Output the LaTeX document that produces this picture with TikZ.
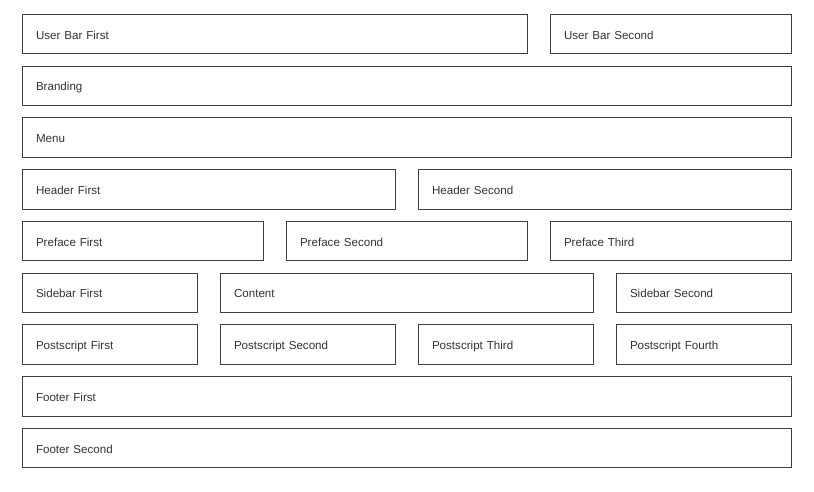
\documentclass[tikz,border=0pt]{standalone}
\usepackage{fontspec}
\setmainfont{Liberation Sans}
\definecolor{boxgray}{HTML}{404040}
\definecolor{txtgray}{HTML}{333333}
\tikzset{
  box/.style={draw=boxgray, line width=1pt, rectangle, anchor=north west,
    minimum height=39.5pt, inner xsep=13.5pt, inner ysep=0pt, outer sep=0pt,
    font=\fontsize{11.6pt}{14pt}\selectfont, text=txtgray, align=left,
    text height=10pt, text depth=0pt},
  w769/.style={box, minimum width=769pt, text width=742pt},
  w505/.style={box, minimum width=505pt, text width=478pt},
  w373/.style={box, minimum width=373pt, text width=346pt},
  w241/.style={box, minimum width=241pt, text width=214pt},
  w175/.style={box, minimum width=175pt, text width=148pt},
}
\begin{document}
\begin{tikzpicture}[x=1pt,y=-1pt]
\useasboundingbox (0,0) rectangle (814,491);
% row 1
\node[w505] (ubf) at (22.5,14.25) {User Bar First};
\node[w241] (ubs) at (550.5,14.25) {User Bar Second};
% row 2
\node[w769] (brand) at (22.5,66) {Branding};
% row 3
\node[w769] (menu) at (22.5,117.75) {Menu};
% row 4
\node[w373] (hf) at (22.5,169.5) {Header First};
\node[w373] (hs) at (418.5,169.5) {Header Second};
% row 5
\node[w241] (pf) at (22.5,221.25) {Preface First};
\node[w241] (ps) at (286.5,221.25) {Preface Second};
\node[w241] (pt) at (550.5,221.25) {Preface Third};
% row 6
\node[w175] (sf) at (22.5,273) {Sidebar First};
\node[w373] (content) at (220.5,273) {Content};
\node[w175] (ss) at (616.5,273) {Sidebar Second};
% row 7
\node[w175] (p1) at (22.5,324.75) {Postscript First};
\node[w175] (p2) at (220.5,324.75) {Postscript Second};
\node[w175] (p3) at (418.5,324.75) {Postscript Third};
\node[w175] (p4) at (616.5,324.75) {Postscript Fourth};
% row 8
\node[w769] (ff) at (22.5,376.5) {Footer First};
% row 9
\node[w769] (fs) at (22.5,428.25) {Footer Second};
\end{tikzpicture}
\end{document}
